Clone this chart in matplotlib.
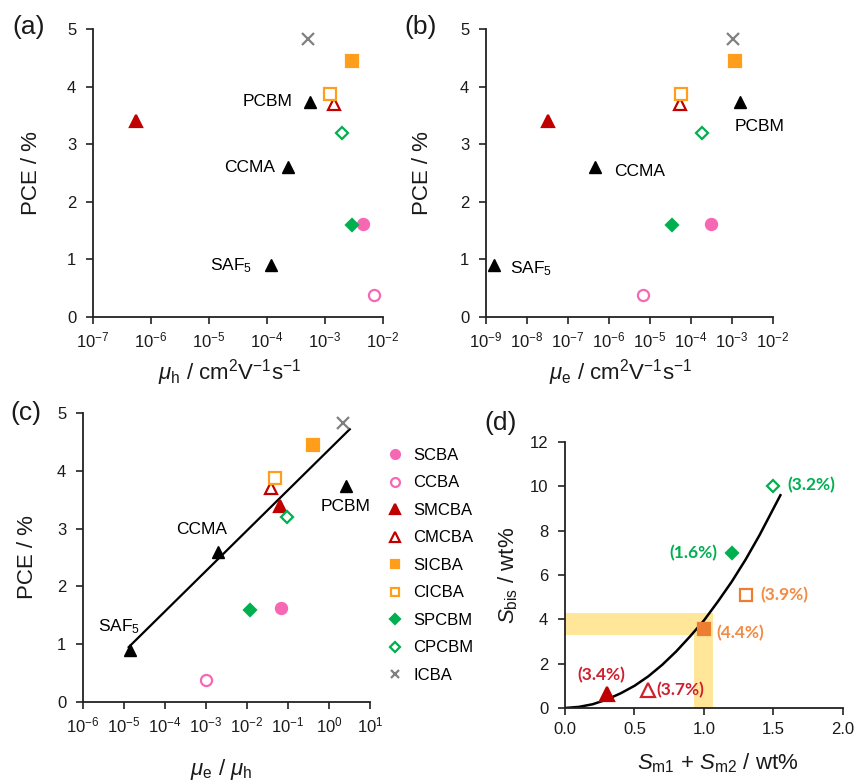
import numpy as np
import matplotlib
matplotlib.use("Agg")
import matplotlib.pyplot as plt
from matplotlib.ticker import FixedLocator, FuncFormatter, NullLocator
from matplotlib.lines import Line2D

plt.rcParams["font.family"] = ["Liberation Sans", "DejaVu Sans"]
plt.rcParams["mathtext.fontset"] = "custom"
plt.rcParams["mathtext.rm"] = "Liberation Sans"
plt.rcParams["mathtext.it"] = "Liberation Sans:italic"
plt.rcParams["mathtext.bf"] = "Liberation Sans:bold"
plt.rcParams["axes.unicode_minus"] = False

# fullerene bis-adducts: PCE and mobilities
names = ["SCBA", "CCBA", "SMCBA", "CMCBA", "SICBA", "CICBA", "SPCBM", "CPCBM", "ICBA"]
pce = [1.62, 0.38, 3.40, 3.70, 4.44, 3.87, 1.60, 3.20, 4.82]
mu_h = [4.5e-3, 7.0e-3, 5.5e-7, 1.45e-3, 2.9e-3, 1.2e-3, 2.9e-3, 2.0e-3, 5.0e-4]
mu_e = [3.0e-4, 6.8e-6, 3.3e-8, 5.5e-5, 1.2e-3, 5.8e-5, 3.4e-5, 1.9e-4, 1.07e-3]
ratio = [0.066, 1.0e-3, 0.063, 0.038, 0.41, 0.048, 0.012, 0.093, 2.2]

# reference acceptors (black triangles)
ref_names = ["PCBM", "CCMA", "SAF$_5$"]
ref_pce = [3.74, 2.60, 0.90]
ref_mu_h = [5.6e-4, 2.3e-4, 1.15e-4]
ref_mu_e = [1.55e-3, 4.6e-7, 1.55e-9]
ref_ratio = [2.6, 2.0e-3, 1.4e-5]

# linear fit in panel (c)
fit_ratio = [1.3e-5, 3.2]
fit_pce = [0.95, 4.72]

# panel (d): solubilities
sol_names = ["SMCBA", "CMCBA", "SICBA", "CICBA", "SPCBM", "CPCBM"]
s_mono = [0.30, 0.60, 1.00, 1.30, 1.20, 1.50]
s_bis = [0.65, 0.80, 3.58, 5.10, 7.00, 10.00]
sol_labels = ["(3.4%)", "(3.7%)", "(4.4%)", "(3.9%)", "(1.6%)", "(3.2%)"]
curve_x = [0, 0.1, 0.2, 0.3, 0.4, 0.5, 0.6, 0.7, 0.8, 0.9, 1.0, 1.1, 1.2, 1.3, 1.4, 1.5, 1.55]
curve_y = [0, 0.05, 0.17, 0.38, 0.66, 1.0, 1.43, 1.95, 2.55, 3.23, 3.95, 4.8, 5.7, 6.7, 7.8, 9.0, 9.6]
band_x = (0.93, 1.066)
band_y = (3.3, 4.27)

PINK, RED, ORANGE, GREEN, GRAY = "#F768B4", "#C00000", "#FF9E1B", "#00B050", "#808080"
styles = {
    "SCBA": dict(marker="o", color=PINK, mfc=PINK, ms=8),
    "CCBA": dict(marker="o", color=PINK, mfc="white", ms=8),
    "SMCBA": dict(marker="^", color=RED, mfc=RED, ms=9),
    "CMCBA": dict(marker="^", color=RED, mfc="white", ms=9),
    "SICBA": dict(marker="s", color=ORANGE, mfc=ORANGE, ms=8),
    "CICBA": dict(marker="s", color=ORANGE, mfc="white", ms=8),
    "SPCBM": dict(marker="D", color=GREEN, mfc=GREEN, ms=6.5),
    "CPCBM": dict(marker="D", color=GREEN, mfc="white", ms=6.5),
    "ICBA": dict(marker="x", color=GRAY, mfc=GRAY, ms=8),
}

TICK = 12
LABEL = 16
ANN = 12.5
TXT = "#1a1a1a"

fig = plt.figure(figsize=(8.55, 7.83), dpi=100)
ax_a = fig.add_axes([0.1088, 0.5951, 0.3392, 0.3678])
ax_b = fig.add_axes([0.5684, 0.5951, 0.3357, 0.3678])
ax_c = fig.add_axes([0.0971, 0.1034, 0.3357, 0.3691])
ax_d = fig.add_axes([0.6608, 0.0958, 0.3251, 0.3397])


def style_axes(ax):
    for side in ("top", "right"):
        ax.spines[side].set_visible(False)
    for side in ("left", "bottom"):
        ax.spines[side].set_linewidth(1.3)
        ax.spines[side].set_color("#222222")
    ax.tick_params(direction="out", length=5, width=1.2, labelsize=TICK,
                   colors="#222222", labelcolor=TXT)
    ax.tick_params(axis="y", pad=7)
    ax.tick_params(axis="x", pad=5)


def log_axis(ax, lo, hi):
    ax.set_xscale("log")
    ax.set_xlim(10.0 ** lo, 10.0 ** hi)
    ax.xaxis.set_major_locator(FixedLocator([10.0 ** k for k in range(lo, hi + 1)]))
    ax.xaxis.set_minor_locator(NullLocator())
    ax.xaxis.set_major_formatter(FuncFormatter(lambda v, _: r"$10^{%d}$" % round(np.log10(v))))
    ax.set_ylim(0, 5)
    ax.set_yticks(range(6))


def pce_panel(ax, xs, ref_xs, ann_offsets, ann_ha):
    for n, x, y in zip(names, xs, pce):
        st = styles[n]
        ax.plot([x], [y], linestyle="none", marker=st["marker"], color=st["color"],
                mfc=st["mfc"], mec=st["color"], ms=st["ms"], mew=1.6, clip_on=False, zorder=3)
    ax.plot(ref_xs, ref_pce, linestyle="none", marker="^", color="black", ms=8.5,
            clip_on=False, zorder=3)
    for name, x, y, off, ha in zip(ref_names, ref_xs, ref_pce, ann_offsets, ann_ha):
        ax.annotate(name, (x, y), xytext=off, textcoords="offset points",
                    ha=ha, va="center", fontsize=ANN, color="black")
    ax.set_ylabel("PCE / %", fontsize=LABEL, color=TXT)


# (a) hole mobility
style_axes(ax_a)
log_axis(ax_a, -7, -2)
pce_panel(ax_a, mu_h, ref_mu_h, [(-13, 0), (-9, 0), (-13, 0)], ["right"] * 3)
ax_a.set_xlabel(r"$\mu_{\rm h}$ / cm$^{2}$V$^{-1}$s$^{-1}$", fontsize=LABEL, color=TXT)
ax_a.xaxis.set_label_coords(0.47, -0.14)
ax_a.yaxis.set_label_coords(-0.175, 0.5)

# (b) electron mobility
style_axes(ax_b)
log_axis(ax_b, -9, -2)
pce_panel(ax_b, mu_e, ref_mu_e, [(-4, -18), (14, -3), (11.5, -2.5)], ["left"] * 3)
ax_b.set_xlabel(r"$\mu_{\rm e}$ / cm$^{2}$V$^{-1}$s$^{-1}$", fontsize=LABEL, color=TXT)
ax_b.xaxis.set_label_coords(0.47, -0.14)
ax_b.yaxis.set_label_coords(-0.185, 0.5)

# (c) mobility ratio
style_axes(ax_c)
log_axis(ax_c, -6, 1)
ax_c.plot(fit_ratio, fit_pce, color="black", lw=1.6, zorder=2)
pce_panel(ax_c, ratio, ref_ratio, [(0, -14.5), (-12, 16), (-8, 16.5)], ["center"] * 3)
ax_c.set_xlabel(r"$\mu_{\rm e}$ / $\mu_{\rm h}$", fontsize=LABEL, color=TXT)
ax_c.xaxis.set_label_coords(0.48, -0.19)
ax_c.yaxis.set_label_coords(-0.157, 0.5)

handles = [Line2D([], [], linestyle="none", marker=styles[n]["marker"], color=styles[n]["color"],
                  mfc=styles[n]["mfc"], mec=styles[n]["color"], ms=styles[n]["ms"] * 0.8, mew=1.6)
           for n in names]
fig.legend(handles, names, loc="upper left", bbox_to_anchor=(0.452, 0.428),
           bbox_transform=fig.transFigure, frameon=False, fontsize=12,
           handlelength=1.0, handletextpad=0.6, labelspacing=0.75, borderpad=0,
           borderaxespad=0)

# (d) solubility
style_axes(ax_d)
ax_d.set_xlim(0, 2)
ax_d.set_ylim(0, 12)
ax_d.set_xticks([0, 0.5, 1.0, 1.5, 2.0])
ax_d.xaxis.set_major_formatter(FuncFormatter(lambda v, _: f"{v:.1f}"))
ax_d.set_yticks(range(0, 13, 2))
BAND = "#FFE699"
ax_d.fill_between([0, band_x[1]], band_y[0], band_y[1], color=BAND, lw=0, zorder=0)
ax_d.fill_betweenx([0, band_y[0]], band_x[0], band_x[1], color=BAND, lw=0, zorder=0)
ax_d.plot(curve_x, curve_y, color="black", lw=1.8, zorder=2)

D_ORANGE = "#ED7D31"
d_colors = {"SMCBA": ("#C00000", "#D0202E"), "CMCBA": ("#D0202E", "#D0202E"),
            "SICBA": (D_ORANGE, "#F08C45"), "CICBA": (D_ORANGE, "#F08C45"),
            "SPCBM": (GREEN, "#00B050"), "CPCBM": (GREEN, "#00B050")}
d_offsets = {"SMCBA": ((-4, 13), "center"), "CMCBA": ((6, 0), "left"),
             "SICBA": ((9, -3), "left"), "CICBA": ((10.5, 0), "left"),
             "SPCBM": ((-10.5, 0), "right"), "CPCBM": ((10, 0.8), "left")}
for n, x, y, lab in zip(sol_names, s_mono, s_bis, sol_labels):
    st = styles[n]
    mcol, tcol = d_colors[n]
    mfc = mcol if st["mfc"] != "white" else "white"
    ax_d.plot([x], [y], linestyle="none", marker=st["marker"], mfc=mfc, mec=mcol,
              ms=st["ms"] * (1.05 if st["marker"] == "^" else 1.0), mew=1.6, zorder=3)
    off, ha = d_offsets[n]
    ax_d.annotate(lab, (x, y), xytext=off, textcoords="offset points", ha=ha, va="center",
                  fontsize=12.5, fontweight="bold", color=tcol, family=["Lato", "DejaVu Sans"])
ax_d.set_ylabel(r"$S_{\rm bis}$ / wt%", fontsize=LABEL, color=TXT)
ax_d.yaxis.set_label_coords(-0.162, 0.5)
ax_d.set_xlabel(r"$S_{\rm m1}$ + $S_{\rm m2}$ / wt%", fontsize=LABEL, color=TXT)
ax_d.xaxis.set_label_coords(0.55, -0.165)

# panel letters
for label, x, y in [("(a)", 0.015, 0.965), ("(b)", 0.473, 0.965),
                    ("(c)", 0.012, 0.473), ("(d)", 0.567, 0.46)]:
    fig.text(x, y, label, fontsize=19, color=TXT, va="center", ha="left")

fig.savefig("out.png", dpi=100)
